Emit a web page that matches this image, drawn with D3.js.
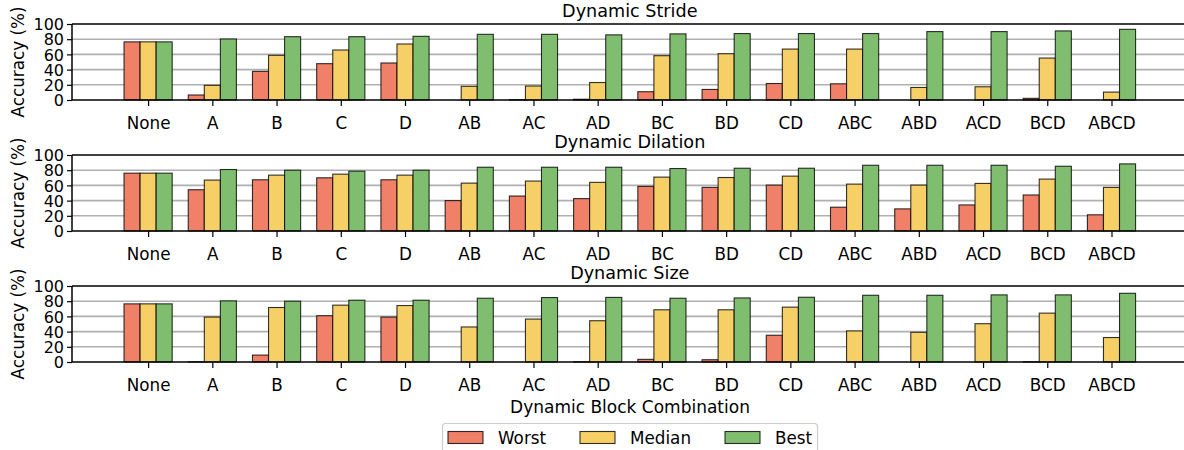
<!DOCTYPE html>
<html><head><meta charset="utf-8">
<script src="https://cdn.jsdelivr.net/npm/d3@7"></script>
<style>body{margin:0;background:#fff}svg{display:block}text{font-family:"DejaVu Sans",sans-serif;fill:#000}</style>
</head><body>
<svg id="c" width="1184" height="450"></svg>
<script>
const categories = ["None","A","B","C","D","AB","AC","AD","BC","BD","CD","ABC","ABD","ACD","BCD","ABCD"];
const panelTitles = ["Dynamic Stride","Dynamic Dilation","Dynamic Size"];
const seriesNames = ["Worst","Median","Best"];
const seriesColors = ["#f08068","#f6d066","#7fbe6f"];
const yTicks = [0,20,40,60,80,100];

const strideWorst  = [76.5,6.6,37.7,47.8,48.7,0,0.4,1.0,10.9,13.9,21.7,21.3,0,0,2.2,0];
const strideMedian = [76.5,19.3,58.8,65.8,73.7,18.0,18.4,23.0,58.3,60.9,67.0,67.0,16.5,17.4,55.2,10.4];
const strideBest   = [76.5,80.3,83.3,83.3,83.8,86.4,86.4,85.7,87.0,87.4,87.4,87.4,90.0,90.0,90.9,93.0];

const dilationWorst  = [76.1,54.3,67.4,70.0,67.4,40.0,46.0,42.6,58.7,57.4,60.4,31.3,29.1,34.3,47.4,21.3];
const dilationMedian = [76.1,67.0,73.5,74.8,73.5,63.0,65.7,64.0,70.9,70.4,72.2,61.7,60.4,62.6,68.3,57.4];
const dilationBest   = [76.1,80.9,80.0,78.7,80.0,83.9,83.9,83.9,82.2,82.6,82.6,86.5,86.5,86.5,85.2,88.3];

const sizeWorst  = [76.5,0.3,9.1,60.9,59.1,0,0,0.3,3.5,3.0,35.2,0,0,0,0.3,0];
const sizeMedian = [76.5,59.1,71.7,74.8,74.3,46.1,56.5,54.3,68.7,68.7,72.2,40.9,39.1,50.4,64.3,32.2];
const sizeBest   = [76.5,80.4,80.0,81.3,81.3,83.9,84.8,85.0,83.9,84.3,85.2,87.8,87.8,88.3,88.3,90.4];

const panels = [
  [strideWorst, strideMedian, strideBest],
  [dilationWorst, dilationMedian, dilationBest],
  [sizeWorst, sizeMedian, sizeBest]
];

const svg = d3.select("#c");
const left = 72, right = 1187.6;
const x = d3.scaleLinear().domain([-1.185, categories.length + 0.185]).range([left, right]);
const bw = 0.25;
const panelTop = [24,155,286], panelH = 76;

panels.forEach((series, p) => {
  const top = panelTop[p], bottom = top + panelH;
  const y = d3.scaleLinear().domain([0,100]).range([bottom, top]);
  const g = svg.append("g");
  // grid
  g.selectAll("line.grid").data(yTicks.filter(t => t > 0 && t < 100)).join("line")
    .attr("x1", left).attr("x2", 1184).attr("y1", d => y(d)).attr("y2", d => y(d))
    .attr("stroke", "#b0b0b0").attr("stroke-width", 1.6);
  // bars
  series.forEach((vals, s) => {
    g.selectAll("rect.s" + s).data(vals).join("rect")
      .attr("x", (d, i) => x(i + (s - 1.5) * bw))
      .attr("width", x(bw) - x(0))
      .attr("y", d => y(d))
      .attr("height", d => y(0) - y(d))
      .attr("fill", seriesColors[s])
      .attr("stroke", "#000").attr("stroke-opacity", 0.8).attr("stroke-width", 1.1);
  });
  // axes
  const ya = d3.axisLeft(y).tickValues(yTicks).tickSize(5).tickPadding(3);
  const yg = g.append("g").attr("transform", `translate(${left},0)`).call(ya);
  yg.select(".domain").remove();
  yg.selectAll(".tick line").attr("stroke", "#000").attr("stroke-width", 1.2);
  yg.selectAll(".tick text").attr("font-size", 16).attr("font-family", "DejaVu Sans").attr("dy", "0.36em");
  const xa = d3.axisBottom(x).tickValues(d3.range(categories.length)).tickFormat(i => categories[i]).tickSize(6).tickPadding(11.5);
  const xg = g.append("g").attr("transform", `translate(0,${bottom})`).call(xa);
  xg.select(".domain").remove();
  xg.selectAll(".tick line").attr("stroke", "#000").attr("stroke-width", 1.2);
  xg.selectAll(".tick text").attr("font-size", 16.8).attr("font-family", "DejaVu Sans");
  // spines
  g.append("line").attr("x1", left).attr("x2", 1184).attr("y1", top).attr("y2", top).attr("stroke", "#000").attr("stroke-width", 1.5);
  g.append("line").attr("x1", left).attr("x2", 1184).attr("y1", bottom).attr("y2", bottom).attr("stroke", "#000").attr("stroke-width", 1.5);
  g.append("line").attr("x1", left).attr("x2", left).attr("y1", top).attr("y2", bottom).attr("stroke", "#000").attr("stroke-width", 1.5);
  // title
  g.append("text").attr("x", (left + right) / 2).attr("y", top - 7).attr("text-anchor", "middle")
    .attr("font-size", 17.6).text(panelTitles[p]);
  // y label
  g.append("text").attr("transform", `translate(23.5,${(top + bottom) / 2}) rotate(-90)`)
    .attr("text-anchor", "middle").attr("font-size", 16.8).text("Accuracy (%)");
});

svg.append("text").attr("x", 630).attr("y", 413).attr("text-anchor", "middle").attr("font-size", 17).text("Dynamic Block Combination");

// legend
const lg = svg.append("g");
lg.append("rect").attr("x", 442.5).attr("y", 423.5).attr("width", 375).attr("height", 34).attr("rx", 3)
  .attr("fill", "#fff").attr("stroke", "#cccccc").attr("stroke-width", 1.2);
const legX = [448, 580, 725];
seriesNames.forEach((n, s) => {
  lg.append("rect").attr("x", legX[s]).attr("y", 431.5).attr("width", 35).attr("height", 12)
    .attr("fill", seriesColors[s]).attr("stroke", "#000").attr("stroke-opacity", 0.8).attr("stroke-width", 1.1);
  lg.append("text").attr("x", legX[s] + 50).attr("y", 443.5).attr("font-size", 16.8).text(n);
});
</script>
</body></html>
